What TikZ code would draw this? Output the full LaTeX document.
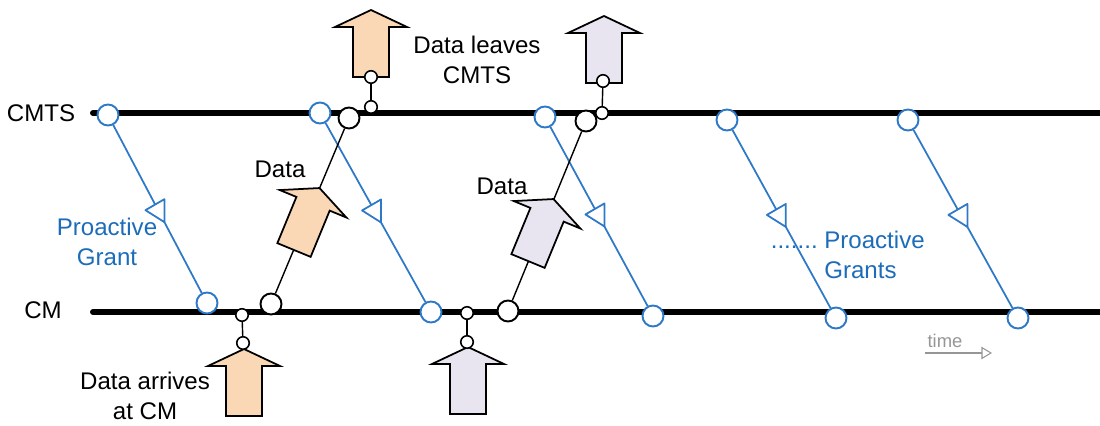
\documentclass[tikz,border=0pt]{standalone}
\usepackage{fontspec}
\setmainfont{Liberation Sans}
\usetikzlibrary{arrows.meta,calc}
\definecolor{grantblue}{RGB}{46,120,200}
\definecolor{textblue}{RGB}{28,108,186}
\definecolor{peach}{RGB}{250,216,182}
\definecolor{lavender}{RGB}{232,228,240}
\definecolor{timegray}{RGB}{150,150,150}

\begin{document}
\begin{tikzpicture}[x=0.02cm,y=-0.02cm,
        timeline/.style={line width=3.4pt,line cap=round},
        grant/.style={draw=grantblue,line width=1pt},
        gcirc/.style={circle,draw=grantblue,fill=white,line width=1.1pt,minimum size=0.42cm,inner sep=0pt},
        bcirc/.style={circle,draw,fill=white,line width=1.1pt,minimum size=0.42cm,inner sep=0pt},
        scirc/.style={circle,draw,fill=white,line width=0.9pt,minimum size=0.25cm,inner sep=0pt},
        dataline/.style={line width=0.8pt},
        lbl/.style={font=\fontsize{13.7}{17.5}\selectfont,align=center,inner sep=0pt},
        blbl/.style={lbl,text=textblue},
        blockarrow/.pic={\draw[pic actions,line width=1pt] (-18,0) -- (-18,-50) -- (-36,-50) -- (0,-67) -- (36,-50) -- (18,-50) -- (18,0) -- cycle;},
        grantmark/.pic={\draw[grant,fill=white,line join=round] (0,0) -- (0,-23) -- (-19,-12) -- cycle;}]
    \useasboundingbox (0,0) rectangle (1100,426);

    % the two time lines
    \coordinate (cmts-s) at (93,113);
    \coordinate (cmts-e) at (1106,113);
    \coordinate (cm-s) at (93,312);
    \coordinate (cm-e) at (1106,312);
    \draw[timeline] (cmts-s) -- (cmts-e);
    \draw[timeline] (cm-s) -- (cm-e);

    \node[lbl] (cmtslbl) at (41,113) {CMTS};
    \node[lbl] (cmlbl) at (43,310) {CM};

    % proactive grants
    \node[gcirc] (t1) at (108,115) {};
    \node[gcirc] (b1) at (207,303) {};
    \node[gcirc] (t2) at (320,113) {};
    \node[gcirc] (b2) at (431,312) {};
    \node[gcirc] (t3) at (545,117) {};
    \node[gcirc] (b3) at (653,316) {};
    \node[gcirc] (t4) at (727,120) {};
    \node[gcirc] (b4) at (836,318) {};
    \node[gcirc] (t5) at (908,120) {};
    \node[gcirc] (b5) at (1018,318) {};

    \draw[grant] (t1) -- (b1);
    \draw[grant] (t2) -- (b2);
    \draw[grant] (t3) -- (b3);
    \draw[grant] (t4) -- (b4);
    \draw[grant] (t5) -- (b5);
    \pic at ($(t1)!0.57!(b1)$) {grantmark};
    \pic at ($(t2)!0.55!(b2)$) {grantmark};
    \pic at ($(t3)!0.55!(b3)$) {grantmark};
    \pic at ($(t4)!0.54!(b4)$) {grantmark};
    \pic at ($(t5)!0.54!(b5)$) {grantmark};

    \node[blbl] (pgrant) at (107,242) {Proactive\\Grant};
    \node[blbl,align=left,anchor=west] (pgrants) at (824,255) {\llap{.......\ }Proactive\\Grants};

    % data sent upstream
    \node[bcirc] (up1) at (271,304) {};
    \node[bcirc] (dn1) at (349,118) {};
    \node[bcirc] (up2) at (508,311) {};
    \node[bcirc] (dn2) at (586,121) {};
    \draw[dataline] (up1) -- (dn1);
    \draw[dataline] (up2) -- (dn2);
    \pic[fill=peach,rotate=-22.4] at (294,250) {blockarrow};
    \pic[fill=lavender,rotate=-22.4] at (528,261) {blockarrow};
    \node[lbl] (data1) at (280,169) {Data};
    \node[lbl] (data2) at (502,186) {Data};

    % data arriving at the CM
    \pic[fill=peach] at (244,416) {blockarrow};
    \pic[fill=lavender] at (468,414) {blockarrow};
    \node[scirc] (in1) at (242,315) {};
    \node[scirc] (ia1) at (243,343) {};
    \node[scirc] (in2) at (467,313) {};
    \node[scirc] (ia2) at (467,342) {};
    \draw[dataline] (in1) -- (ia1);
    \draw[dataline] (in2) -- (ia2);
    \node[lbl] (arrives) at (145,396) {Data arrives\\at CM};

    % data leaving the CMTS
    \pic[fill=peach] at (371,77) {blockarrow};
    \pic[fill=lavender] at (604,83) {blockarrow};
    \node[scirc] (out1) at (371,107) {};
    \node[scirc] (oa1) at (371,77) {};
    \node[scirc] (out2) at (602,113) {};
    \node[scirc] (oa2) at (603,81) {};
    \draw[dataline] (out1) -- (oa1);
    \draw[dataline] (out2) -- (oa2);
    \node[lbl] (leaves) at (477,60) {Data leaves\\CMTS};

    % time
    \node[font=\fontsize{10.5}{12}\selectfont,text=timegray,inner sep=0pt] (time) at (945,341) {time};
    \coordinate (ts) at (925,353);
    \coordinate (te) at (992,353);
    \draw[timegray,line width=0.6pt,-{Triangle[open,length=6pt,width=7pt]}] (ts) -- (te);
\end{tikzpicture}
\end{document}
